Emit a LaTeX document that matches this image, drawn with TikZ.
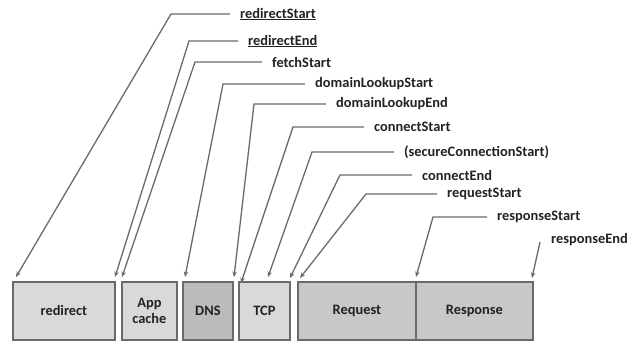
\documentclass[tikz,border=0pt]{standalone}
\usepackage{fontspec}
\setmainfont{Carlito}
\usetikzlibrary{arrows.meta}
\definecolor{edge}{HTML}{6A6A6A}
\definecolor{txt}{HTML}{222222}
\definecolor{light}{HTML}{D9D9D9}
\definecolor{mid}{HTML}{C8C8C8}
\definecolor{dark}{HTML}{BBBBBB}
\tikzset{
  phase/.style={draw=edge, line width=1.8pt, minimum height=58pt, inner sep=0pt,
    font=\bfseries\fontsize{14.4}{16}\selectfont, text=txt, align=center, anchor=north west},
  lbl/.style={anchor=west, inner ysep=0pt, inner xsep=10pt, font=\bfseries\fontsize{14.4}{15}\selectfont, text=txt},
  lead/.style={draw=edge, line width=1.3pt, -{Stealth[length=5.5pt,width=4.5pt]}}
}
\begin{document}
\begin{tikzpicture}[x=1pt,y=-1pt]
\useasboundingbox (0,0) rectangle (629,341);
% boxes
\node[phase, fill=light, minimum width=102pt] (redir) at (12,281) {redirect};
\node[phase, fill=light, minimum width=55pt] (app) at (121,281) {App\\cache};
\node[phase, fill=dark, minimum width=50pt] (dns) at (182,281) {DNS};
\node[phase, fill=light, minimum width=51pt] (tcp) at (238,281) {TCP};
\node[phase, fill=mid, minimum width=118pt] (req) at (297,281) {Request};
\node[phase, fill=mid, minimum width=117pt] (resp) at (415,281) {Response};
% labels
\node[lbl] (l1) at (230,14) {\underline{redirectStart}};
\node[lbl] (l2) at (238,41) {\underline{redirectEnd}};
\node[lbl] (l3) at (262,62) {fetchStart};
\node[lbl] (l4) at (305,84) {domainLookupStart};
\node[lbl] (l5) at (326,104) {domainLookupEnd};
\node[lbl] (l6) at (364,127) {connectStart};
\node[lbl] (l7) at (394,152) {(secureConnectionStart)};
\node[lbl] (l8) at (412,175) {connectEnd};
\node[lbl] (l9) at (437,194) {requestStart};
\node[lbl] (l10) at (487,217) {responseStart};
\node[lbl] (l11) at (541,240) {responseEnd};
% tips
\coordinate (t1) at (16,277);
\coordinate (t2) at (115,277);
\coordinate (t3) at (122,277);
\coordinate (t4) at (185,277);
\coordinate (t5) at (234,277);
\coordinate (t6) at (241,283);
\coordinate (t7) at (268,277);
\coordinate (t8) at (290,278);
\coordinate (t9) at (300,278);
\coordinate (t10) at (416,277);
\coordinate (t11) at (532,278);
% leaders
\draw[lead] (l1.west) -- (171,14) -- (t1);
\draw[lead] (l2.west) -- (189,41) -- (t2);
\draw[lead] (l3.west) -- (195,62) -- (t3);
\draw[lead] (l4.west) -- (223,84) -- (t4);
\draw[lead] (l5.west) -- (254,104) -- (t5);
\draw[lead] (l6.west) -- (293,127) -- (t6);
\draw[lead] (l7.west) -- (312,152) -- (t7);
\draw[lead] (l8.west) -- (340,175) -- (t8);
\draw[lead] (l9.west) -- (366,194) -- (t9);
\draw[lead] (l10.west) -- (433,217) -- (t10);
\draw[lead] ([shift={(-1,2)}]l11.west) -- (t11);
\end{tikzpicture}
\end{document}
